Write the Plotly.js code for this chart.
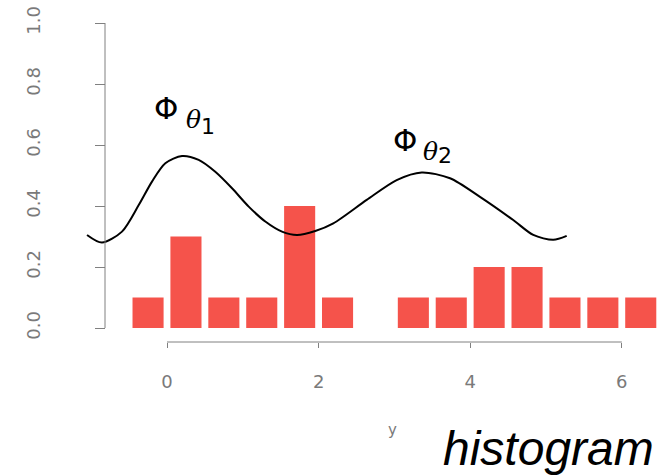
<!DOCTYPE html>
<html>
<head>
<meta charset="utf-8">
<script src="https://cdn.plot.ly/plotly-3.0.1.min.js"></script>
<style>html,body{margin:0;padding:0;background:#fff;}#chart{width:663px;height:476px;}</style>
</head>
<body>
<div id="chart"></div>
<script>
// histogram bin centres and heights
var binCenters = [-0.25, 0.25, 0.75, 1.25, 1.75, 2.25, 3.25, 3.75, 4.25, 4.75, 5.25, 5.75, 6.25];
var binHeights = [0.1, 0.3, 0.1, 0.1, 0.4, 0.1, 0.1, 0.1, 0.2, 0.2, 0.1, 0.1, 0.1];
// curve
var curveX = [-1.055, -0.858, -0.594, -0.373, -0.198, -0.022, 0.198, 0.418, 0.637, 0.858, 1.078, 1.297, 1.517, 1.715, 1.956, 2.194, 2.635, 3.030, 3.360, 3.734, 4.129, 4.568, 4.832, 5.096, 5.273];
var curveY = [0.305, 0.280, 0.316, 0.403, 0.480, 0.540, 0.564, 0.551, 0.512, 0.458, 0.398, 0.349, 0.316, 0.305, 0.318, 0.343, 0.420, 0.485, 0.510, 0.491, 0.430, 0.354, 0.305, 0.289, 0.302];
var xTicks = [0, 2, 4, 6];
var yTicks = [0, 0.2, 0.4, 0.6, 0.8, 1.0];
var yTickText = ['0.0', '0.2', '0.4', '0.6', '0.8', '1.0'];

var grey = '#808080';
var traces = [
  {type: 'bar', x: binCenters, y: binHeights, marker: {color: '#f5534b', line: {width: 0}}, hoverinfo: 'skip'},
  {type: 'scatter', mode: 'lines', x: curveX, y: curveY, line: {color: '#000', width: 2, shape: 'spline', smoothing: 0.8}, hoverinfo: 'skip'}
];
var yPos = 25 / 580;
var layout = {
  width: 663, height: 476,
  margin: {l: 80, r: 3, t: 15, b: 134, pad: 0},
  paper_bgcolor: '#fff', plot_bgcolor: '#fff',
  showlegend: false,
  bargap: 0.18,
  xaxis: {range: [-87 / 75.8, 493 / 75.8], tickvals: xTicks, ticktext: xTicks.map(String),
    ticks: 'outside', ticklen: 5, tickcolor: grey, tickwidth: 1,
    showline: false, showgrid: false, zeroline: false, ticklabelstandoff: 18,
    tickfont: {family: 'DejaVu Sans', size: 18, color: '#7a7a7a'}, fixedrange: true},
  yaxis: {range: [-14 / 305, 313 / 305], anchor: 'free', position: yPos,
    tickvals: yTicks, ticktext: yTickText, tickangle: -90,
    ticks: 'outside', ticklen: 10, tickcolor: grey, tickwidth: 1,
    showline: false, showgrid: false, zeroline: false, ticklabelstandoff: 48,
    tickfont: {family: 'DejaVu Sans', size: 18, color: '#7a7a7a'}, fixedrange: true},
  shapes: [
    {type: 'line', xref: 'x', yref: 'paper', x0: 0, x1: 6, y0: 0, y1: 0, line: {color: grey, width: 1}},
    {type: 'line', xref: 'paper', yref: 'y', x0: yPos, x1: yPos, y0: 0, y1: 1, line: {color: grey, width: 1}}
  ],
  annotations: [
    {xref: 'x', yref: 'y', x: -0.013, y: 0.721, text: 'Φ', showarrow: false, xanchor: 'center', yanchor: 'middle', font: {family: 'DejaVu Sans', size: 31, color: '#000'}},
    {xref: 'x', yref: 'y', x: 0.343, y: 0.682, text: '<i>θ</i>', showarrow: false, xanchor: 'center', yanchor: 'middle', font: {family: 'DejaVu Serif', size: 25, color: '#000'}},
    {xref: 'x', yref: 'y', x: 0.541, y: 0.662, text: '1', showarrow: false, xanchor: 'center', yanchor: 'middle', font: {family: 'DejaVu Sans', size: 22, color: '#000'}},
    {xref: 'x', yref: 'y', x: 3.14, y: 0.616, text: 'Φ', showarrow: false, xanchor: 'center', yanchor: 'middle', font: {family: 'DejaVu Sans', size: 31, color: '#000'}},
    {xref: 'x', yref: 'y', x: 3.47, y: 0.580, text: '<i>θ</i>', showarrow: false, xanchor: 'center', yanchor: 'middle', font: {family: 'DejaVu Serif', size: 25, color: '#000'}},
    {xref: 'x', yref: 'y', x: 3.67, y: 0.564, text: '2', showarrow: false, xanchor: 'center', yanchor: 'middle', font: {family: 'DejaVu Sans', size: 22, color: '#000'}},
    {xref: 'paper', yref: 'paper', x: (392 - 80) / 580, y: (342 - 430) / 327, text: 'y', showarrow: false, xanchor: 'center', yanchor: 'middle', font: {family: 'DejaVu Sans', size: 15, color: '#7a7a7a'}},
    {xref: 'paper', yref: 'paper', x: (548 - 80) / 580, y: (342 - 448) / 327, text: '<i>histogram</i>', showarrow: false, xanchor: 'center', yanchor: 'middle', font: {family: 'Liberation Sans', size: 48, color: '#000'}}
  ]
};
Plotly.newPlot('chart', traces, layout, {staticPlot: true, displayModeBar: false});
</script>
</body>
</html>
